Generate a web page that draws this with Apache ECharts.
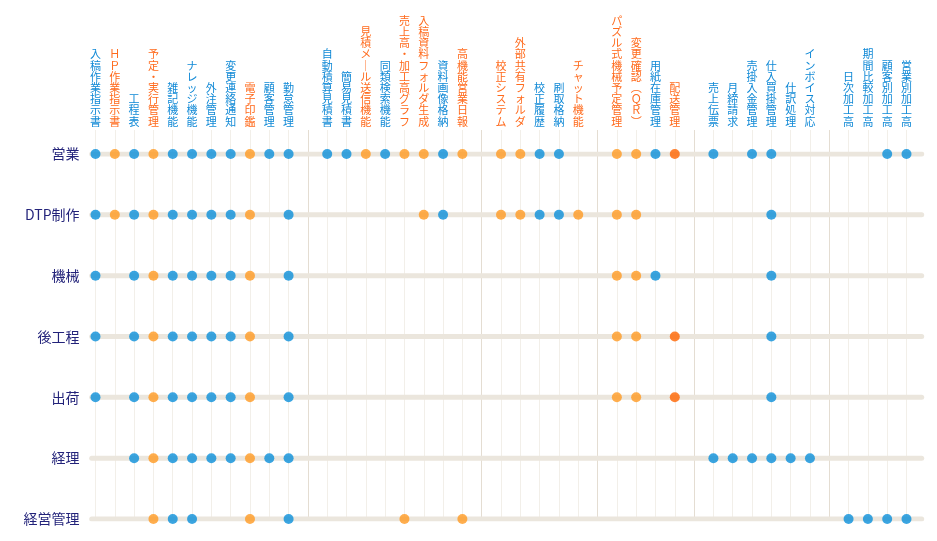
<!DOCTYPE html>
<html><head><meta charset="utf-8">
<script src="https://cdn.jsdelivr.net/npm/echarts@6/dist/echarts.min.js"></script>
<style>html,body{margin:0;padding:0;background:#fff}#c{width:937px;height:541px}</style>
</head><body><div id="c"></div>
<script>
// Column categories (spacer columns are blank)
const columns = ['入稿作業指示書','ＨＰ作業指示書','工程表','予定・実行管理','雑記機能','ナレッジ機能','外注管理','変更連絡通知','電子印鑑','顧客管理','勤怠管理',' ',
 '自動積算見積書','簡易見積書','見積メール送信機能','同類検索機能','売上高・加工高グラフ','入稿資料フォルダ生成','資料画像格納','高機能営業日報','  ',
 '校正システム','外部共有フォルダ','校正履歴','刷取格納','チャット機能','   ',
 'パズル式機械予定管理','変更確認（ＱＲ）','用紙在庫管理','配送管理','    ',
 '売上伝票','月締請求','売掛入金管理','仕入買掛管理','仕訳処理','インボイス対応','     ',
 '日次加工高','期間比較加工高','顧客別加工高','営業別加工高'];
// Column kind: b = blue, o = orange, r = red-orange
const columnKind = ['b','o','b','o','b','b','b','b','o','b','b','',
 'b','b','o','b','o','o','b','o','',
 'o','o','b','b','o','',
 'o','o','b','r','',
 'b','b','b','b','b','b','',
 'b','b','b','b'];
const rows = ['営業','DTP制作','機械','後工程','出荷','経理','経営管理'];

const sales = ['入稿作業指示書','ＨＰ作業指示書','工程表','予定・実行管理','雑記機能','ナレッジ機能','外注管理','変更連絡通知','電子印鑑','顧客管理','勤怠管理',
 '自動積算見積書','簡易見積書','見積メール送信機能','同類検索機能','売上高・加工高グラフ','入稿資料フォルダ生成','資料画像格納','高機能営業日報',
 '校正システム','外部共有フォルダ','校正履歴','刷取格納','パズル式機械予定管理','変更確認（ＱＲ）','用紙在庫管理','配送管理',
 '売上伝票','売掛入金管理','仕入買掛管理','顧客別加工高','営業別加工高'];
const dtp = ['入稿作業指示書','ＨＰ作業指示書','工程表','予定・実行管理','雑記機能','ナレッジ機能','外注管理','変更連絡通知','電子印鑑','勤怠管理',
 '入稿資料フォルダ生成','資料画像格納','校正システム','外部共有フォルダ','校正履歴','刷取格納','チャット機能','パズル式機械予定管理','変更確認（ＱＲ）','仕入買掛管理'];
const machine = ['入稿作業指示書','工程表','予定・実行管理','雑記機能','ナレッジ機能','外注管理','変更連絡通知','電子印鑑','勤怠管理',
 'パズル式機械予定管理','変更確認（ＱＲ）','用紙在庫管理','仕入買掛管理'];
const postpress = ['入稿作業指示書','工程表','予定・実行管理','雑記機能','ナレッジ機能','外注管理','変更連絡通知','電子印鑑','勤怠管理',
 'パズル式機械予定管理','変更確認（ＱＲ）','配送管理','仕入買掛管理'];
const shipping = ['入稿作業指示書','工程表','予定・実行管理','雑記機能','ナレッジ機能','外注管理','変更連絡通知','電子印鑑','勤怠管理',
 'パズル式機械予定管理','変更確認（ＱＲ）','配送管理','仕入買掛管理'];
const accounting = ['工程表','予定・実行管理','雑記機能','ナレッジ機能','外注管理','変更連絡通知','電子印鑑','顧客管理','勤怠管理',
 '売上伝票','月締請求','売掛入金管理','仕入買掛管理','仕訳処理','インボイス対応'];
const management = ['予定・実行管理','雑記機能','ナレッジ機能','電子印鑑','勤怠管理','売上高・加工高グラフ','高機能営業日報',
 '日次加工高','期間比較加工高','顧客別加工高','営業別加工高'];
const rowFeatures = [sales, dtp, machine, postpress, shipping, accounting, management];

const DOT = {b:'#0a8ed9', o:'#ff9a22', r:'#ff6400'};
const LABEL = {b:'#1089d6', o:'#ff6a1c', r:'#ff6a1c', '':'#fff'};
const FONT = '"Noto Sans CJK JP", "Noto Sans", sans-serif';

const points = {b:[], o:[], r:[]};
rows.forEach((r, ri) => {
  rowFeatures[ri].forEach(f => {
    const k = columnKind[columns.indexOf(f)];
    points[k].push([f, r]);
  });
});

const vmap = {'ー':'｜','（':'︵','）':'︶'};
const splitColors = columnKind.map(k => k === '' ? '#e4ddd2' : '#f2efe9');

const L = 95.5, R = 937 - 906.5;
const series = [];
rows.forEach(r => {
  series.push({type:'line', xAxisIndex:1, yAxisIndex:1, silent:true, symbol:'none', z:1,
    data:[[0, r],[1, r]], lineStyle:{width:5, color:'#ebe6dd', cap:'round'}});
});
['b','o','r'].forEach(k => {
  series.push({type:'scatter', xAxisIndex:2, yAxisIndex:2, symbolSize:10, z:5,
    itemStyle:{color:DOT[k]}, data:points[k]});
});

const chart = echarts.init(document.getElementById('c'), null, {renderer:'canvas'});
chart.setOption({
  animation:false,
  backgroundColor:'#fff',
  grid:[
    {left:L, right:R, top:130, bottom:22, containLabel:false, outerBoundsMode:'none'},
    {left:91.7, right:15.3, top:154, bottom:22, containLabel:false, outerBoundsMode:'none'},
    {left:L, right:R, top:154, bottom:22, containLabel:false, outerBoundsMode:'none'}
  ],
  xAxis:[
    {gridIndex:0, type:'category', data:columns, position:'top', boundaryGap:false,
     axisLine:{show:false}, axisTick:{show:false},
     splitLine:{show:true, lineStyle:{color:splitColors, width:1}},
     axisLabel:{interval:0, margin:3, fontSize:11, lineHeight:11.2, fontFamily:FONT,
       color:(v, i) => LABEL[columnKind[columns.indexOf(v)]] || LABEL[columnKind[i]],
       formatter:v => v.trim() === '' ? '' : v.split('').map(c => vmap[c] || c).join('\n')}},
    {gridIndex:1, type:'value', min:0, max:1, show:false},
    {gridIndex:2, type:'category', data:columns, boundaryGap:false, show:false}
  ],
  yAxis:[
    {gridIndex:0, type:'value', show:false},
    {gridIndex:1, type:'category', data:rows, inverse:true, boundaryGap:false, show:false},
    {gridIndex:2, type:'category', data:rows, inverse:true, boundaryGap:false,
     axisLine:{show:false}, axisTick:{show:false}, splitLine:{show:false},
     axisLabel:{margin:16, fontSize:14, color:'#23237a', fontFamily:FONT}}
  ],
  series:series
});
</script>
</body></html>
